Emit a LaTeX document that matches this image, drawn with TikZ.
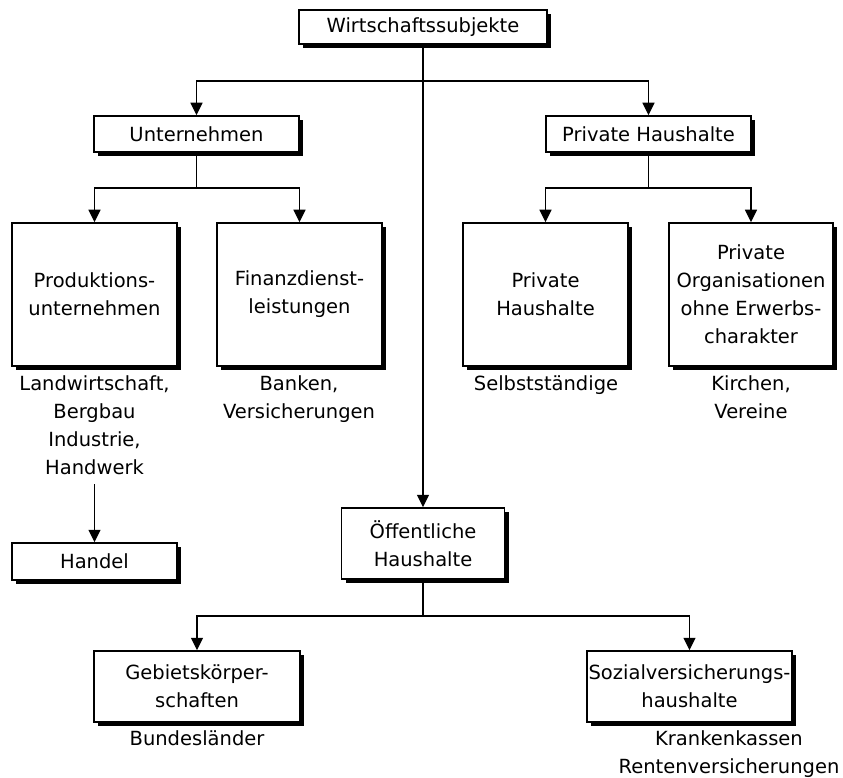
\documentclass[tikz,border=0pt]{standalone}
\usepackage{fontspec}
\setmainfont{DejaVu Sans}
\usetikzlibrary{arrows.meta,shadows}
\begin{document}
\begin{tikzpicture}[x=1pt,y=-1pt,
  every node/.style={font=\fontsize{19.5}{28}\selectfont, inner sep=0pt, align=center},
  box/.style={draw, line width=1.5pt, fill=white, minimum width=#1,
    drop shadow={shadow xshift=4pt, shadow yshift=-4pt, opacity=1, fill=black}},
  lab/.style={anchor=north},
  conn/.style={line width=1.4pt},
  arr/.style={conn, -{Triangle[width=12pt,length=12.5pt]}}]
\useasboundingbox (0,0) rectangle (843,778);

% boxes
\node[box=248pt, minimum height=34pt] (w) at (423,27) {Wirtschaftssubjekte};
\node[box=205pt, minimum height=36pt] (u) at (196.5,134) {Unternehmen};
\node[box=205pt, minimum height=36pt] (ph) at (648.5,134) {Private Haushalte};
\node[box=165pt, minimum height=143pt] (prod) at (94.5,294.5) {Produktions-\\unternehmen};
\node[box=165pt, minimum height=143pt] (fin) at (299.5,294.5) {Finanzdienst-\\leistungen};
\node[box=165pt, minimum height=143pt] (phi) at (545.5,294.5) {Private\\Haushalte};
\node[box=164pt, minimum height=143pt] (po) at (751,294.5) {Private\\Organisationen\\ohne Erwerbs-\\charakter};
\node[box=165pt, minimum height=37pt] (handel) at (94.5,561.5) {Handel};
\node[box=163pt, minimum height=71pt] (oe) at (423,543.5) {Öffentliche\\Haushalte};
\node[box=206pt, minimum height=71pt] (geb) at (197,686.5) {Gebietskörper-\\schaften};
\node[box=205pt, minimum height=71pt] (soz) at (689.5,686.5) {Sozialversicherungs-\\haushalte};

% labels below boxes
\node[lab] (prodlab) at (94.5,375) {Landwirtschaft,\\Bergbau\\Industrie,\\Handwerk};
\node[lab] (finlab) at (299,375) {Banken,\\Versicherungen};
\node[lab] (philab) at (546,375) {Selbstständige};
\node[lab] (polab) at (751,375) {Kirchen,\\Vereine};
\node[lab] (geblab) at (197,730) {Bundesländer};
\node[lab] (sozlab) at (729,730) {Krankenkassen\\Rentenversicherungen};

% junctions
\coordinate (j0) at (423,81);
\coordinate (ju) at (196.5,188);
\coordinate (jp) at (648.5,188);
\coordinate (jo) at (423,616);

% connectors
\draw[conn] (w.south) -- (j0);
\draw[arr] (j0) -| (u.north);
\draw[arr] (j0) -| (ph.north);
\draw[arr] (j0) -- (oe.north);

\draw[conn] (u.south) -- (ju);
\draw[arr] (ju) -| (prod.north);
\draw[arr] (ju) -| (fin.north);

\draw[conn] (ph.south) -- (jp);
\draw[arr] (jp) -| (phi.north);
\draw[arr] (jp) -| (po.north);

\draw[arr] ([yshift=-10pt]prodlab.south) -- (handel.north);

\draw[conn] (oe.south) -- (jo);
\draw[arr] (jo) -| (geb.north);
\draw[arr] (jo) -| (soz.north);
\end{tikzpicture}
\end{document}
